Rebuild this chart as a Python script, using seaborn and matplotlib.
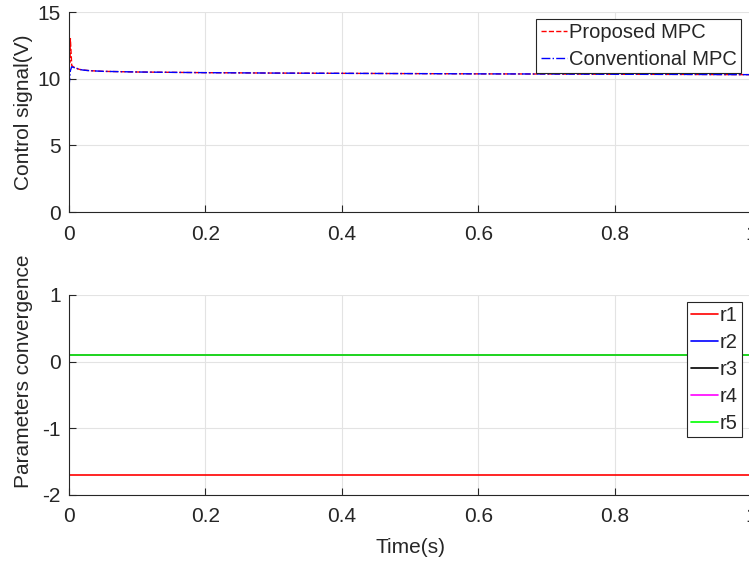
import matplotlib
matplotlib.use("Agg")
import matplotlib.pyplot as plt
import seaborn as sns
import pandas as pd

# ---- data ----
time = [0.0, 0.001, 0.002, 0.004, 0.006, 0.01, 0.015, 0.02, 0.03, 0.05,
        0.1, 0.2, 0.3, 0.4, 0.5, 0.6, 0.7, 0.8, 0.9, 1.0]
proposed = [13.6, 11.2, 13.0, 11.0, 10.9, 10.8, 10.7, 10.65, 10.6, 10.55,
            10.5, 10.45, 10.42, 10.4, 10.38, 10.36, 10.35, 10.33, 10.32, 10.3]
conventional = [9.4, 10.0, 10.6, 10.9, 10.85, 10.8, 10.7, 10.65, 10.6, 10.55,
                10.5, 10.45, 10.42, 10.4, 10.38, 10.36, 10.35, 10.33, 10.32, 10.3]

param_time = [0.0, 1.0]
r1 = [-1.7, -1.7]
r2 = [0.1, 0.1]
r3 = [0.1, 0.1]
r4 = [0.1, 0.1]
r5 = [0.1, 0.1]

x_ticks = [0, 0.2, 0.4, 0.6, 0.8, 1]
x_ticklabels = ["0", "0.2", "0.4", "0.6", "0.8", "1"]

sns.set_style("white")
plt.rcParams['font.family'] = ['Liberation Sans', 'DejaVu Sans']
plt.rcParams['axes.unicode_minus'] = False

W, H = 749, 567
AX_W = 682
fig = plt.figure(figsize=(W / 100, H / 100), dpi=100)
ax1 = fig.add_axes([69/W, 1 - 212/H, AX_W/W, 200/H])
ax2 = fig.add_axes([69/W, 1 - 495/H, AX_W/W, 200/H])

fs = 15
lfs = 14.5
ink = '#262626'


def style(ax):
    ax.set_xlim(0, 1)
    ax.set_xticks(x_ticks)
    ax.set_xticklabels(x_ticklabels)
    ax.grid(True, color='#e3e3e3', linewidth=0.8)
    ax.set_axisbelow(True)
    for s in ['top', 'right']:
        ax.spines[s].set_visible(False)
    for s in ['left', 'bottom']:
        ax.spines[s].set_color(ink)
        ax.spines[s].set_linewidth(0.8)
    ax.tick_params(direction='in', length=5, width=0.8, colors=ink,
                   labelsize=fs, labelcolor=ink,
                   left=True, bottom=True)
    ax.tick_params(axis='x', pad=9)
    ax.tick_params(axis='y', pad=6)


def make_legend(ax, anchor, spacing):
    leg = ax.legend(loc='upper right', bbox_to_anchor=anchor,
                    bbox_transform=fig.transFigure, fontsize=lfs, frameon=True,
                    fancybox=False, edgecolor=ink, framealpha=1,
                    handlelength=1.3, handletextpad=0.12, borderpad=0.2,
                    labelspacing=spacing, borderaxespad=0)
    leg.get_frame().set_linewidth(0.8)
    return leg


# ---- top ----
df1 = pd.DataFrame({"t": time + time,
                    "v": proposed + conventional,
                    "s": ["Proposed MPC"] * len(time) + ["Conventional MPC"] * len(time)})
sns.lineplot(data=df1[df1.s == "Proposed MPC"], x="t", y="v", ax=ax1,
             color='#ff0000', linestyle='--', linewidth=1.0, label="Proposed MPC")
sns.lineplot(data=df1[df1.s == "Conventional MPC"], x="t", y="v", ax=ax1,
             color='#0000ff', linestyle='-.', linewidth=1.0, label="Conventional MPC")
style(ax1)
ax1.set_ylim(0, 15)
ax1.set_yticks([0, 5, 10, 15])
ax1.set_ylabel("Control signal(V)", fontsize=fs, color=ink)
ax1.yaxis.set_label_coords(-36/AX_W, 0.5)
ax1.set_xlabel("")
make_legend(ax1, (741/W, 1 - 19/H), 0.4)

# ---- bottom ----
names = ["r1", "r2", "r3", "r4", "r5"]
vals = [r1, r2, r3, r4, r5]
colors = ['#ff0000', '#0000ff', '#000000', '#ff00ff', '#00ff00']
for n, v, c in zip(names, vals, colors):
    d = pd.DataFrame({"t": param_time, "v": v})
    sns.lineplot(data=d, x="t", y="v", ax=ax2, color=c, linewidth=1.2, label=n)
style(ax2)
ax2.set_ylim(-2, 1)
ax2.set_yticks([-2, -1, 0, 1])
ax2.set_ylabel("Parameters convergence", fontsize=fs, color=ink)
ax2.yaxis.set_label_coords(-36/AX_W, 0.62)
ax2.set_xlabel("Time(s)", fontsize=fs, color=ink, labelpad=8)
make_legend(ax2, (742/W, 1 - 302/H), 0.4)

fig.savefig("out.png", dpi=100)
